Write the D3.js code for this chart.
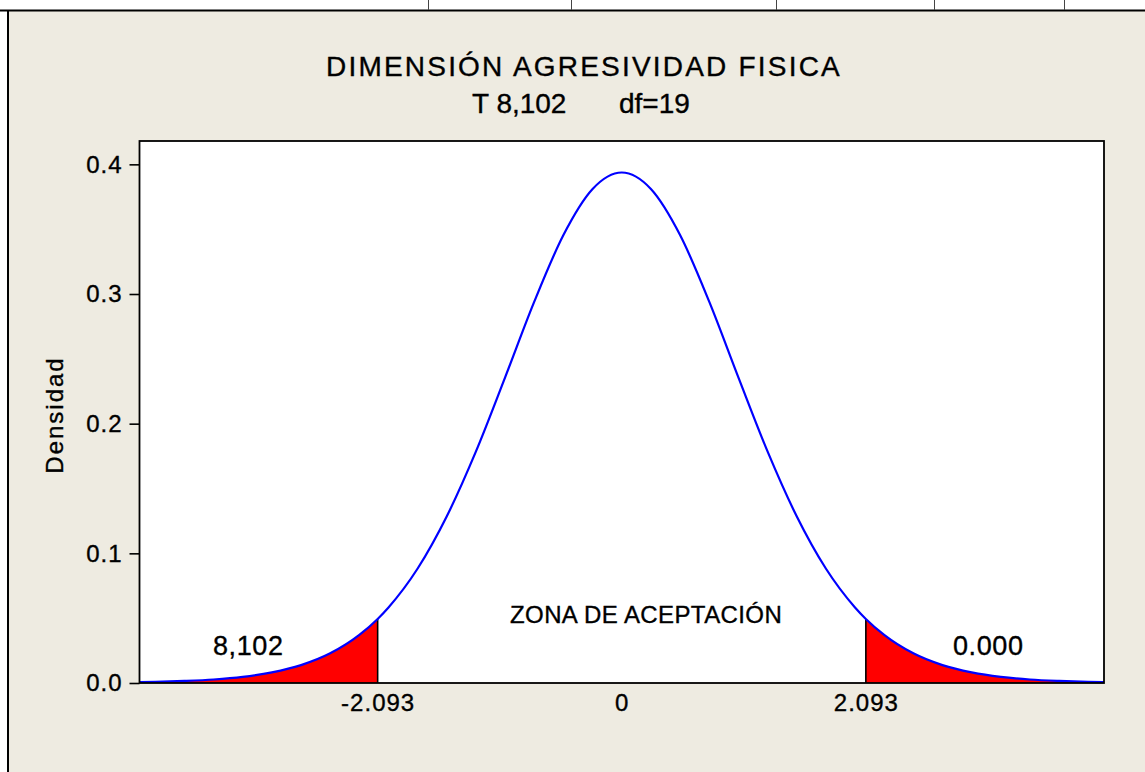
<!DOCTYPE html>
<html>
<head>
<meta charset="utf-8">
<script src="https://cdnjs.cloudflare.com/ajax/libs/d3/7.8.5/d3.min.js"></script>
<style>
  body { margin: 0; background: #ffffff; }
  svg { display: block; font-family: "Liberation Sans", Arial, sans-serif; }
  svg text { fill: #000; stroke: #000; stroke-width: 0.35px; }
</style>
</head>
<body>
<div id="visual_container"></div>
<script>
// values (t, density)
var tValues = [-4.135, -4, -3.75, -3.5, -3.25, -3, -2.75, -2.5, -2.25, -2.093, -2, -1.75, -1.5, -1.25, -1, -0.75, -0.5, -0.25,
               0, 0.25, 0.5, 0.75, 1, 1.25, 1.5, 1.75, 2, 2.093, 2.25, 2.5, 2.75, 3, 3.25, 3.5, 3.75, 4, 4.135];
var densityValues = [0.0006, 0.0009, 0.0016, 0.0027, 0.0047, 0.0082, 0.0138, 0.0229, 0.0371, 0.0494, 0.0583, 0.0883, 0.1286, 0.1786, 0.2357, 0.2941, 0.3455, 0.3810,
                     0.3937, 0.3810, 0.3455, 0.2941, 0.2357, 0.1786, 0.1286, 0.0883, 0.0583, 0.0494, 0.0371, 0.0229, 0.0138, 0.0082, 0.0047, 0.0027, 0.0016, 0.0009, 0.0006];
var criticalValues = [-2.093, 2.093];
var xTickValues = [-2.093, 0, 2.093];
var xTickLabels = ["-2.093", "0", "2.093"];
var yTickValues = [0, 0.1, 0.2, 0.3, 0.4];
var tailLabels = ["8,102", "0.000"];
var titleText = "DIMENSIÓN AGRESIVIDAD FISICA";
var subtitleT = "T 8,102";
var subtitleDf = "df=19";
var yLabel = "Densidad";
var zoneLabel = "ZONA DE ACEPTACIÓN";

var width = 1145;
var height = 772;
var plot = { left: 139.5, right: 1104, top: 141, bottom: 683 };

var data = tValues.map(function(t, i) { return { t: t, d: densityValues[i] }; });

var svg = d3.select("#visual_container").append("svg")
            .attr("width", width)
            .attr("height", height);

// page frame (table cell borders at the top)
svg.append("rect").attr("x", 0).attr("y", 0).attr("width", width).attr("height", height).attr("fill", "#ffffff");
svg.append("rect").attr("x", 9).attr("y", 11).attr("width", width - 9).attr("height", height - 11).attr("fill", "#EEEBE1");
svg.append("line").attr("x1", 0).attr("x2", width).attr("y1", 10.5).attr("y2", 10.5)
   .attr("stroke", "#000").attr("stroke-width", 2);
svg.append("line").attr("x1", 8).attr("x2", 8).attr("y1", 10).attr("y2", height)
   .attr("stroke", "#000").attr("stroke-width", 2);
svg.selectAll(".cell")
   .data([428, 571, 776, 934, 1064])
   .enter()
   .append("line")
   .attr("class", "cell")
   .attr("x1", function(d) { return d + 0.5; })
   .attr("x2", function(d) { return d + 0.5; })
   .attr("y1", 0).attr("y2", 10)
   .attr("stroke", "#444").attr("stroke-width", 1);

var x = d3.scaleLinear().domain([-4.135, 4.135]).range([plot.left, plot.right]);
var y = d3.scaleLinear().domain([0, 0.418]).range([plot.bottom, plot.top]);

svg.append("rect")
   .attr("x", plot.left).attr("y", plot.top)
   .attr("width", plot.right - plot.left).attr("height", plot.bottom - plot.top)
   .attr("fill", "#ffffff");

var curve = d3.curveMonotoneX;

var area = d3.area()
             .x(function(d) { return x(d.t); })
             .y0(y(0))
             .y1(function(d) { return y(d.d); })
             .curve(curve);

var line = d3.line()
             .x(function(d) { return x(d.t); })
             .y(function(d) { return y(d.d); })
             .curve(curve);

var leftTail = data.filter(function(d) { return d.t <= criticalValues[0]; });
var rightTail = data.filter(function(d) { return d.t >= criticalValues[1]; });

svg.selectAll(".tail")
   .data([leftTail, rightTail])
   .enter()
   .append("path")
   .attr("class", "tail")
   .attr("d", area)
   .attr("fill", "#FF0000");

svg.selectAll(".crit")
   .data(criticalValues)
   .enter()
   .append("line")
   .attr("class", "crit")
   .attr("x1", function(d) { return x(d); })
   .attr("x2", function(d) { return x(d); })
   .attr("y1", y(0))
   .attr("y2", function(d) { return y(data.find(function(p) { return p.t === d; }).d); })
   .attr("stroke", "#000").attr("stroke-width", 1.6);

svg.append("path")
   .datum(data)
   .attr("d", line)
   .attr("fill", "none")
   .attr("stroke", "#0000FF")
   .attr("stroke-width", 2.2);

// box
svg.append("rect")
   .attr("x", plot.left).attr("y", plot.top)
   .attr("width", plot.right - plot.left).attr("height", plot.bottom - plot.top)
   .attr("fill", "none").attr("stroke", "#000").attr("stroke-width", 1.8);

// axes
var yAxis = svg.append("g")
               .attr("transform", "translate(" + plot.left + ",0)")
               .call(d3.axisLeft(y).tickValues(yTickValues).tickFormat(d3.format(".1f")).tickSize(10).tickPadding(7));
yAxis.select(".domain").remove();
yAxis.selectAll("line").attr("stroke", "#000").attr("stroke-width", 1.6);
yAxis.selectAll("text").attr("font-size", 24).attr("font-family", "Liberation Sans, Arial, sans-serif")
     .attr("letter-spacing", 1);

var xAxis = svg.append("g")
               .attr("transform", "translate(0," + plot.bottom + ")")
               .call(d3.axisBottom(x).tickValues(xTickValues)
                       .tickFormat(function(d, i) { return xTickLabels[i]; })
                       .tickSize(0).tickPadding(11));
xAxis.select(".domain").remove();
xAxis.selectAll("text").attr("font-size", 24).attr("font-family", "Liberation Sans, Arial, sans-serif")
     .attr("letter-spacing", 1);

// titles
svg.append("text")
   .attr("x", 584).attr("y", 76)
   .attr("text-anchor", "middle")
   .attr("font-size", 28)
   .attr("letter-spacing", 2.2)
   .text(titleText);

svg.append("text")
   .attr("x", 472).attr("y", 113)
   .attr("font-size", 28)
   .text(subtitleT);

svg.append("text")
   .attr("x", 619).attr("y", 113)
   .attr("font-size", 28)
   .text(subtitleDf);

svg.append("text")
   .attr("transform", "translate(63,415) rotate(-90)")
   .attr("text-anchor", "middle")
   .attr("font-size", 24)
   .attr("letter-spacing", 2)
   .text(yLabel);

svg.append("text")
   .attr("x", 510).attr("y", 623)
   .attr("font-size", 24)
   .attr("letter-spacing", 0.4)
   .text(zoneLabel);

svg.selectAll(".tail-label")
   .data(tailLabels)
   .enter()
   .append("text")
   .attr("class", "tail-label")
   .attr("x", function(d, i) { return i === 0 ? 213 : 953; })
   .attr("y", 655)
   .attr("font-size", 27)
   .attr("letter-spacing", 0.6)
   .text(function(d) { return d; });
</script>
</body>
</html>
